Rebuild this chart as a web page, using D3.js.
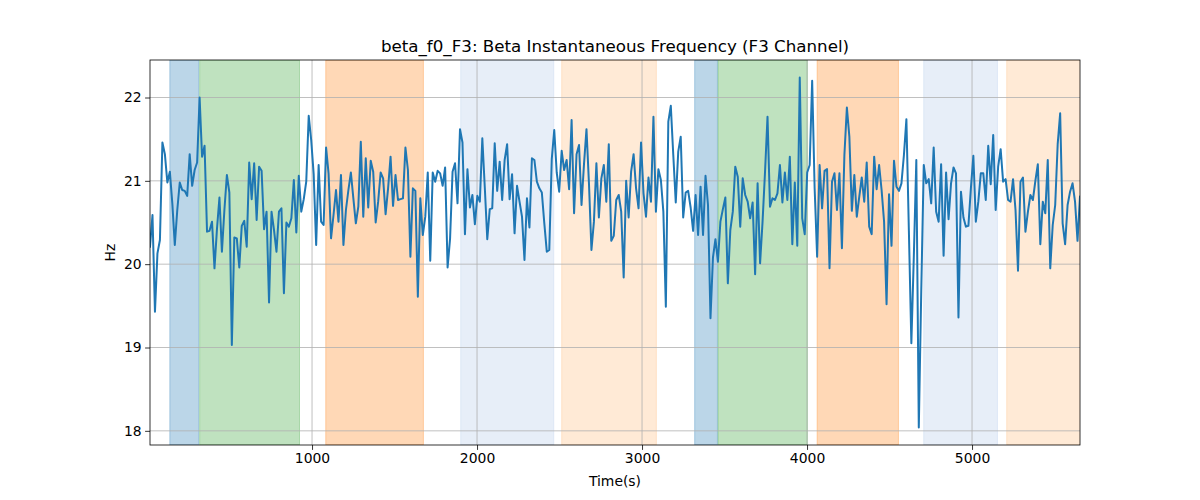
<!DOCTYPE html>
<html>
<head>
<meta charset="utf-8">
<script src="https://cdn.jsdelivr.net/npm/d3@7"></script>
<style>
  html, body { margin: 0; padding: 0; background: #fff; }
  svg { display: block; font-family: "DejaVu Sans", sans-serif; }
</style>
</head>
<body>
<svg id="chart" width="1200" height="500"></svg>
<script>
// ---- Data ----
const title = "beta_f0_F3: Beta Instantaneous Frequency (F3 Channel)";
const xLabel = "Time(s)";
const yLabel = "Hz";
const T0 = 18;      // first sample time (s)
const DT = 15.03;   // sample interval (s)
const values = [
  20.21, 20.59, 19.43, 20.13, 20.29, 21.46, 21.32, 20.98, 21.11, 20.73,
  20.23, 20.65, 20.98, 20.89, 20.88, 20.82, 21.32, 20.94, 21.13, 21.22,
  22.00, 21.29, 21.42, 20.39, 20.40, 20.51, 19.95, 20.42, 20.80, 20.15,
  20.65, 21.07, 20.86, 19.03, 20.32, 20.31, 19.96, 20.46, 20.52, 20.21,
  21.22, 20.78, 21.21, 20.53, 21.17, 21.12, 20.42, 20.63, 19.54, 20.63,
  20.41, 20.15, 20.63, 20.67, 19.65, 20.50, 20.45, 20.55, 21.01, 20.38,
  21.06, 20.63, 20.78, 20.99, 21.78, 21.49, 21.08, 20.23, 21.19, 20.51,
  20.47, 21.40, 21.09, 20.31, 20.59, 20.89, 20.51, 21.07, 20.23, 20.65,
  20.89, 21.10, 20.79, 20.49, 20.69, 21.47,
  20.57, 21.27, 20.68, 21.24, 21.11, 20.50, 20.75, 21.10, 21.03, 20.60,
  20.91, 21.29, 20.70, 21.07, 20.77, 20.78, 20.79, 21.40, 21.13, 20.09,
  20.91, 20.88, 19.61, 20.79, 20.35, 20.57, 21.10, 20.04, 21.10, 20.99,
  21.12, 21.09, 20.94, 21.16, 19.96, 20.31, 21.11, 21.21,
  20.73, 21.62, 21.46, 20.36, 21.14, 20.68, 20.83, 20.48, 20.82, 20.75,
  21.51, 20.92, 20.30, 20.66, 20.67, 21.45, 20.88, 21.23, 20.77, 21.25,
  21.44, 20.78, 21.08, 20.37, 20.94, 20.75, 20.57, 20.05, 20.79, 20.44,
  21.27, 21.25, 20.99, 20.91, 20.86, 20.49, 20.15, 20.17, 21.26, 21.61,
  21.10, 20.87, 21.36, 21.13, 21.25, 20.90, 21.73, 20.61, 21.32, 21.43,
  20.71, 21.20, 21.62, 20.97, 20.17, 20.51, 21.21, 20.56, 21.03, 21.19,
  20.75, 21.44, 20.28,
  20.34, 20.77, 20.83, 20.63, 19.84, 21.00, 20.56, 21.11, 21.32, 20.91,
  20.67, 21.46, 20.85, 20.57, 21.04, 20.75, 21.77, 20.63, 21.14, 21.01,
  20.63, 19.49, 21.71, 21.90, 21.31, 20.74, 21.35, 21.53, 20.56, 20.86,
  20.88, 20.68, 20.40, 20.83, 20.35, 20.93, 20.35, 21.06, 20.71, 19.35,
  20.08, 20.30, 20.03, 20.51, 20.66, 20.80, 19.77, 20.41, 20.63, 21.17,
  21.05, 20.45, 21.03, 20.83, 20.75, 20.55, 20.74, 19.88, 20.97, 20.01,
  20.51, 21.11,
  21.77, 20.69, 20.79, 20.77, 20.85, 21.19, 20.74, 21.10, 20.77, 21.29,
  20.24, 20.98, 20.22, 22.24, 20.55, 20.36, 21.10, 21.19, 22.20, 20.91,
  20.09, 21.19, 20.67, 21.12, 21.14, 19.95, 20.99, 21.09, 20.65, 21.09,
  20.19, 21.31, 21.88, 21.53, 20.64, 21.07, 20.57, 20.81, 21.04, 20.75,
  21.22, 20.45, 20.36, 21.29, 20.90, 21.19, 20.89, 20.51, 19.52, 20.84,
  20.22, 21.24, 20.93, 20.88, 20.97, 21.31, 21.74, 20.40, 19.05, 20.10,
  21.25, 18.04,
  19.70, 21.19, 20.97, 21.02, 20.73, 21.40, 20.63, 20.51, 21.20, 20.10,
  21.10, 20.54, 20.97, 21.16, 21.09, 19.36, 20.87, 20.56, 20.45, 20.46,
  20.91, 21.30, 20.51, 20.75, 21.09, 21.09, 20.77, 21.42, 20.96, 21.55,
  20.65, 21.17, 21.38, 20.99, 21.02, 20.77, 20.75, 21.02, 20.65, 19.92,
  20.99, 21.04, 20.39, 20.63, 20.83, 20.77, 21.00, 21.20, 20.24, 20.75,
  20.61, 21.25, 19.95, 20.47, 20.71, 21.44, 21.81, 20.49, 20.24, 20.71,
  20.87, 20.97, 20.75, 20.28, 20.81
];

// shaded spans: start, end (s) and colour
const spanStarts = [138, 319, 1083, 1901, 2513, 3319, 3461, 4061, 4707, 5210];
const spanEnds   = [313, 924, 1675, 2465, 3087, 3457, 4002, 4554, 5154, 5660];
const spanColors = ["#1f77b4", "#2ca02c", "#ff7f0e", "#aec7e8", "#ffbb78",
                    "#1f77b4", "#2ca02c", "#ff7f0e", "#aec7e8", "#ffbb78"];

const xTicks = [1000, 2000, 3000, 4000, 5000];
const yTicks = [18, 19, 20, 21, 22];

// ---- Layout ----
const W = 1200, H = 500;
const m = { left: 150, right: 120, top: 60, bottom: 55 };
const iw = W - m.left - m.right, ih = H - m.top - m.bottom;

const times = values.map((v, i) => T0 + i * DT);
const data = times.map((t, i) => ({ t, v: values[i] }));

const xExt = d3.extent(times);
const yExt = d3.extent(values);
const yPad = (yExt[1] - yExt[0]) * 0.05;

const x = d3.scaleLinear().domain(xExt).range([0, iw]);
const y = d3.scaleLinear().domain([yExt[0] - yPad, yExt[1] + yPad]).range([ih, 0]);

const svg = d3.select("#chart");
const g = svg.append("g").attr("transform", `translate(${m.left},${m.top})`);

const defs = svg.append("defs");
defs.append("clipPath").attr("id", "clip")
  .append("rect").attr("width", iw).attr("height", ih);

const plot = g.append("g").attr("clip-path", "url(#clip)");

// spans
plot.selectAll("rect.span")
  .data(spanStarts.map((s, i) => ({ s, e: spanEnds[i], c: spanColors[i] })))
  .join("rect")
  .attr("class", "span")
  .attr("x", d => x(d.s))
  .attr("width", d => x(d.e) - x(d.s))
  .attr("y", 0)
  .attr("height", ih)
  .attr("fill", d => d.c)
  .attr("fill-opacity", 0.3)
  .attr("stroke", d => d.c)
  .attr("stroke-opacity", 0.3)
  .attr("stroke-width", 1);

// grid
plot.selectAll("line.gx").data(xTicks).join("line")
  .attr("x1", d => x(d)).attr("x2", d => x(d))
  .attr("y1", 0).attr("y2", ih)
  .attr("stroke", "#b0b0b0").attr("stroke-width", 0.8);
plot.selectAll("line.gy").data(yTicks).join("line")
  .attr("y1", d => y(d)).attr("y2", d => y(d))
  .attr("x1", 0).attr("x2", iw)
  .attr("stroke", "#b0b0b0").attr("stroke-width", 0.8);

// line
plot.append("path")
  .datum(data)
  .attr("fill", "none")
  .attr("stroke", "#1f77b4")
  .attr("stroke-width", 2)
  .attr("stroke-linejoin", "round")
  .attr("stroke-linecap", "square")
  .attr("d", d3.line().x(d => x(d.t)).y(d => y(d.v)));

// axes
const xAxis = g.append("g").attr("transform", `translate(0,${ih})`)
  .call(d3.axisBottom(x).tickValues(xTicks).tickFormat(d3.format("d")).tickSize(4.9).tickPadding(3.5));
const yAxis = g.append("g")
  .call(d3.axisLeft(y).tickValues(yTicks).tickFormat(d3.format("d")).tickSize(4.9).tickPadding(3.5));
[xAxis, yAxis].forEach(a => {
  a.select(".domain").remove();
  a.selectAll(".tick line").attr("stroke", "#000").attr("stroke-width", 0.8);
  a.selectAll(".tick text").attr("fill", "#000").style("font-size", "13.9px")
    .style("font-family", "DejaVu Sans, sans-serif");
});

// frame
g.append("rect").attr("width", iw).attr("height", ih)
  .attr("fill", "none").attr("stroke", "#000").attr("stroke-width", 0.8);

// labels
svg.append("text")
  .attr("x", m.left + iw / 2).attr("y", 52)
  .attr("text-anchor", "middle")
  .style("font-size", "16.7px")
  .text(title);
svg.append("text")
  .attr("x", m.left + iw / 2).attr("y", 486)
  .attr("text-anchor", "middle")
  .style("font-size", "13.9px")
  .text(xLabel);
svg.append("text")
  .attr("transform", `translate(115,${m.top + ih / 2}) rotate(-90)`)
  .attr("text-anchor", "middle")
  .style("font-size", "13.9px")
  .text(yLabel);
</script>
</body>
</html>
